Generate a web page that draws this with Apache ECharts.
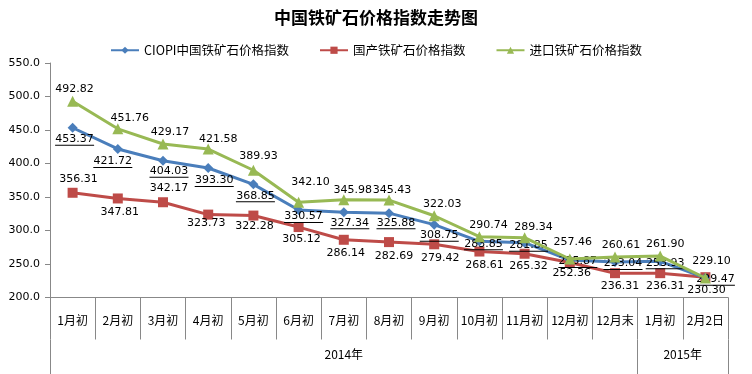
<!DOCTYPE html>
<html><head><meta charset="utf-8">
<script src="https://cdn.jsdelivr.net/npm/echarts@6/dist/echarts.min.js"></script>
<style>html,body{margin:0;padding:0;background:#fff}#c{width:752px;height:374px}</style>
</head><body><div id="c"></div>
<script>
const categories = ['1月初','2月初','3月初','4月初','5月初','6月初','7月初','8月初','9月初','10月初','11月初','12月初','12月末','1月初','2月2日'];
const yearLabels = ['','','','','','','2014年','','','','','','','2015年',''];
const yTicks = [200, 250, 300, 350, 400, 450, 500, 550];
const ciopi = [453.37, 421.72, 404.03, 393.30, 368.85, 330.57, 327.34, 325.88, 308.75, 283.85, 281.85, 255.87, 253.04, 253.93, 229.47];
const domestic = [356.31, 347.81, 342.17, 323.73, 322.28, 305.12, 286.14, 282.69, 279.42, 268.61, 265.32, 252.36, 236.31, 236.31, 230.30];
const imported = [492.82, 451.76, 429.17, 421.58, 389.93, 342.10, 345.98, 345.43, 322.03, 290.74, 289.34, 257.46, 260.61, 261.90, 229.10];
const seriesNames = ['CIOPI中国铁矿石价格指数', '国产铁矿石价格指数', '进口铁矿石价格指数'];

// label placement (style only)
const offCiopi = [[2,12],[-5,13],[6,11],[6,13],[2,12],[5,7],[6,11],[7,10],[5,11],[4,3],[4,3],[8,2],[8,2],[5,2],[10,2]];
const offDomestic = [[6,-14],[2,14],[6,-14],[-2,9],[1,11],[3,12],[2,13],[5,14],[6,14],[5,14],[4,12],[2,11],[5,13],[5,13],[1,13]];
const offImported = [[2,-12],[12,-11],[7,-12],[10,-10],[5,-14],[12,-20],[9,-10],[3,-10],[8,-12],[9,-12],[9,-11],[3,-17],[6,-12],[5,-12],[6,-17]];

const numFont = 'DejaVu Sans';
const cjk = '"Noto Sans CJK SC", "Noto Sans", sans-serif';

function mkData(vals, offs) {
  return vals.map((v, i) => ({
    value: v,
    label: { offset: offs[i] }
  }));
}

const chart = echarts.init(document.getElementById('c'), null, {renderer: 'canvas'});
const baseLabel = {
  show: true, position: 'inside', color: '#000', fontFamily: numFont, fontSize: 11,
  formatter: p => p.value.toFixed(2)
};
chart.setOption({
  animation: false,
  backgroundColor: '#fff',
  title: {
    text: '中国铁矿石价格指数走势图', left: 'center', top: 4,
    textStyle: {fontFamily: cjk, fontSize: 17, fontWeight: 'bold', color: '#000'}
  },
  legend: {
    top: 39, left: 'center', itemGap: 30, itemWidth: 28, itemHeight: 9,
    textStyle: {fontFamily: cjk, fontSize: 12.5, color: '#000'},
    data: seriesNames
  },
  grid: {left: 50, right: 24, top: 63, bottom: 76.5, containLabel: false},
  xAxis: [{
    type: 'category', data: categories, boundaryGap: true,
    axisLine: {lineStyle: {color: '#888', width: 1}},
    axisTick: {show: true, length: 42, lineStyle: {color: '#888'}},
    axisLabel: {interval: 0, margin: 17, color: '#000', fontFamily: cjk, fontSize: 12}
  }, {
    type: 'category', data: yearLabels, boundaryGap: true, position: 'bottom', offset: 42,
    axisLine: {show: false},
    axisTick: {show: true, length: 40, interval: (i) => i === 0 || i === 13, lineStyle: {color: '#888'}},
    axisLabel: {
      interval: 0, margin: 9, color: '#000', fontFamily: cjk, fontSize: 12,
      formatter: (v, i) => i === 13 ? '{s|' + v + '}' : v,
      rich: {s: {padding: [0, 0, 0, 45], fontFamily: cjk, fontSize: 12, color: '#000'}}
    }
  }],
  yAxis: {
    type: 'value', min: yTicks[0], max: yTicks[yTicks.length - 1], interval: 50,
    axisLine: {show: true, lineStyle: {color: '#888'}},
    axisTick: {show: true, length: 5, lineStyle: {color: '#888'}},
    splitLine: {show: false},
    axisLabel: {color: '#000', fontFamily: numFont, fontSize: 11, margin: 10, formatter: v => v.toFixed(1)}
  },
  series: [{
    name: seriesNames[0], type: 'line', data: mkData(ciopi, offCiopi),
    symbol: 'diamond', symbolSize: 10, color: '#4A7EBB',
    lineStyle: {width: 3}, z: 3,
    label: Object.assign({}, baseLabel, {
      formatter: p => '{v|' + p.value.toFixed(2) + '}\n{u|}',
      rich: {
        v: {fontFamily: numFont, fontSize: 11, color: '#000', lineHeight: 11},
        u: {width: 39, height: 1, lineHeight: 1, backgroundColor: '#000'}
      }
    })
  }, {
    name: seriesNames[1], type: 'line', data: mkData(domestic, offDomestic),
    symbol: 'rect', symbolSize: 10, color: '#BE4B48',
    lineStyle: {width: 3}, z: 2,
    label: baseLabel
  }, {
    name: seriesNames[2], type: 'line', data: mkData(imported, offImported),
    symbol: 'triangle', symbolSize: 11, color: '#98B954',
    lineStyle: {width: 3}, z: 4,
    label: baseLabel
  }]
});
</script></body></html>
